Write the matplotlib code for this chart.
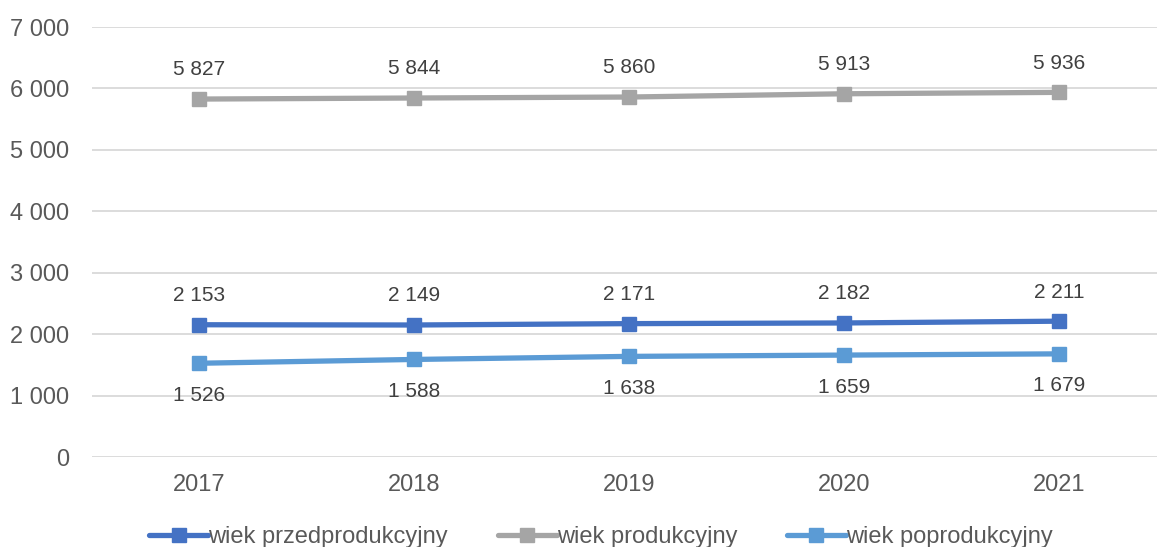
import matplotlib
matplotlib.use("Agg")
import matplotlib.pyplot as plt

years = ["2017", "2018", "2019", "2020", "2021"]
przed = [2153, 2149, 2171, 2182, 2211]
prod = [5827, 5844, 5860, 5913, 5936]
popr = [1526, 1588, 1638, 1659, 1679]
names = ["wiek przedprodukcyjny", "wiek produkcyjny", "wiek poprodukcyjny"]
colors = ["#4472C4", "#A5A5A5", "#5B9BD5"]
yticks = [0, 1000, 2000, 3000, 4000, 5000, 6000, 7000]

plt.rcParams["font.family"] = ["Liberation Sans", "DejaVu Sans"]


def fmt(v):
    return "{:,}".format(v).replace(",", " ")


W, H = 1157, 547
fig = plt.figure(figsize=(W / 100, H / 100), dpi=100)
ax = fig.add_axes([91.5 / W, 90 / H, (1157 - 91.5) / W, 430 / H])

x = list(range(len(years)))
series = [przed, prod, popr]
for vals, name, c in zip(series, names, colors):
    ax.plot(x, vals, color=c, lw=3.8, marker="s", ms=10, label=name,
            solid_capstyle="round")

# data labels: above for first two, below for the last
for vals, dy in [(przed, 21), (prod, 21), (popr, -23)]:
    for xi, v in zip(x, vals):
        ax.annotate(fmt(v), (xi, v), xytext=(0, dy), textcoords="offset points",
                    ha="center", va="center", fontsize=15, color="#404040")

ax.set_xlim(-0.5, (1157 - 199) / 215)
ax.set_ylim(0, 7000)
ax.set_yticks(yticks)
ax.set_yticklabels([fmt(v) for v in yticks])
ax.set_xticks(x)
ax.set_xticklabels(years)
ax.tick_params(axis="both", length=0, labelsize=17, labelcolor="#595959")
ax.tick_params(axis="y", pad=16)
ax.tick_params(axis="x", pad=12)
ax.grid(axis="y", color="#D9D9D9", lw=1.3)
ax.set_axisbelow(True)
for s in ax.spines.values():
    s.set_visible(False)

fig.legend(loc="center", bbox_to_anchor=(601 / W, 1 - 537 / H), ncol=3,
           frameon=False, fontsize=17, labelcolor="#595959",
           handlelength=2.5, handletextpad=0.0, columnspacing=2.1)

fig.savefig("out.png", dpi=100)
